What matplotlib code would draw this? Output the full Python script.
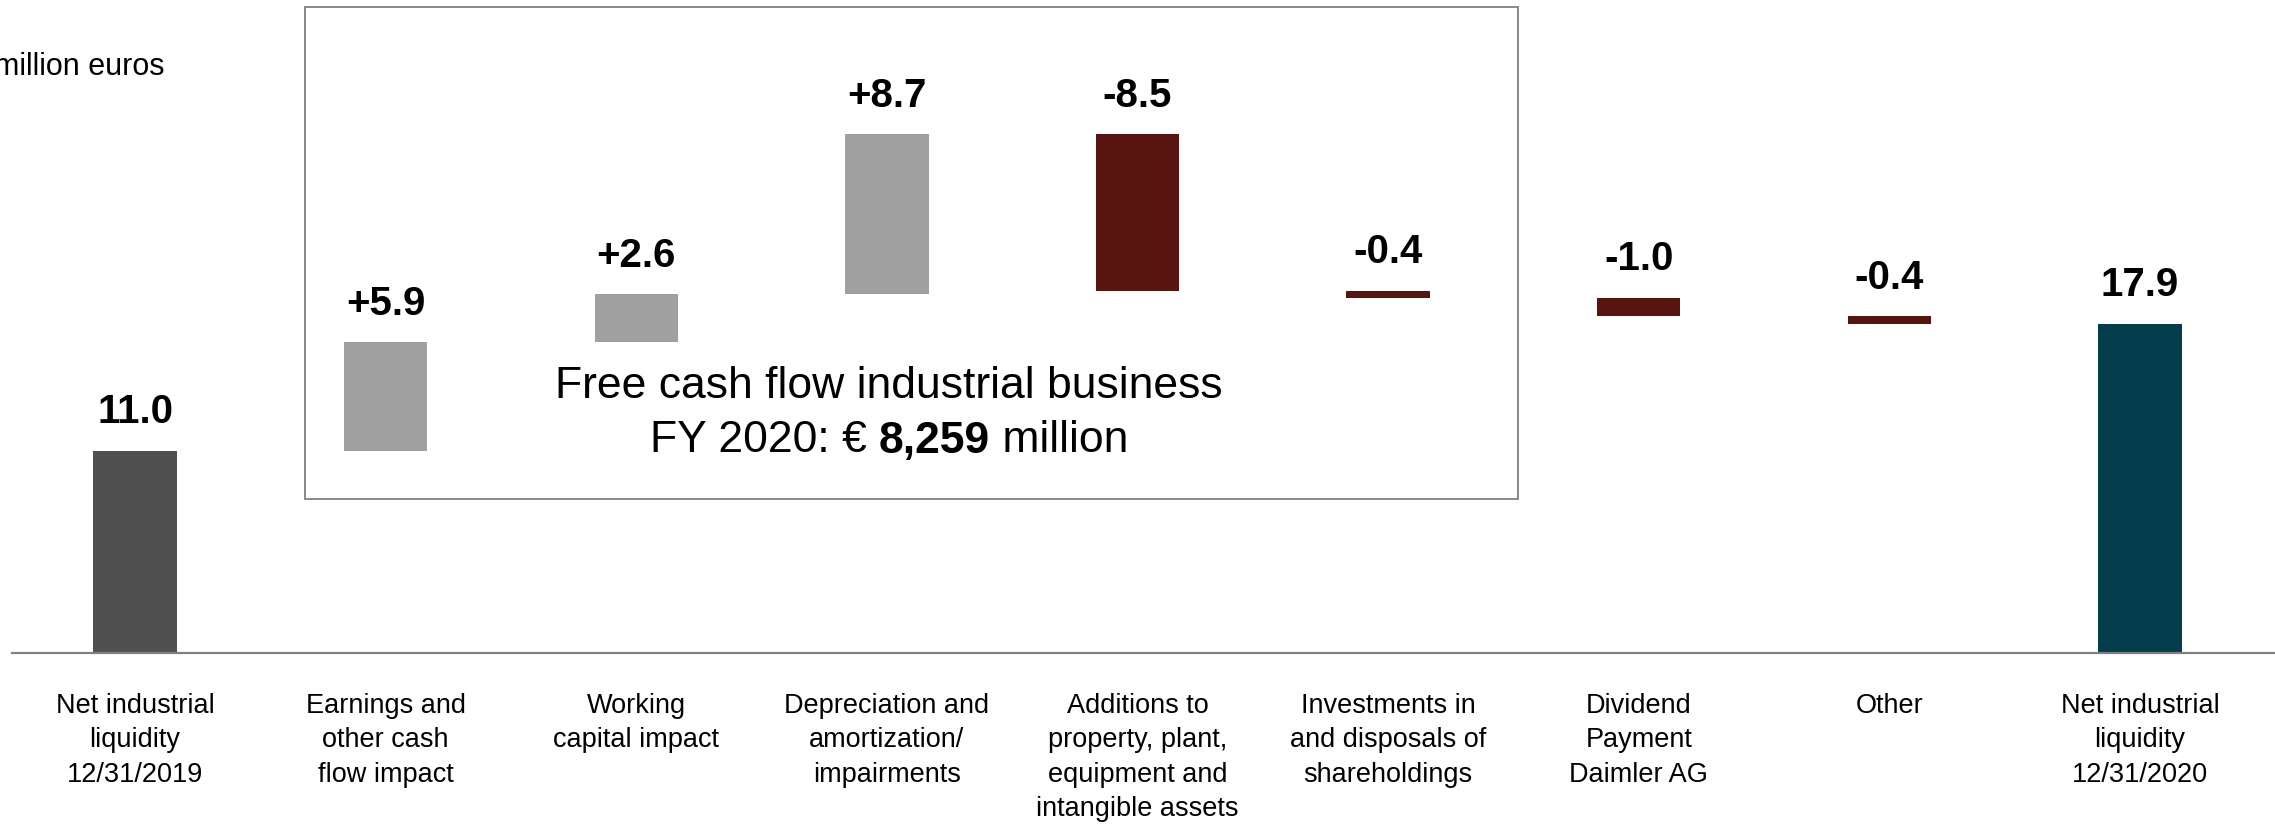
import matplotlib.pyplot as plt
from matplotlib.patches import Rectangle

plt.rcParams['font.family'] = ['Liberation Sans', 'DejaVu Sans']

categories = [
    "Net industrial\nliquidity\n12/31/2019",
    "Earnings and\nother cash\nflow impact",
    "Working\ncapital impact",
    "Depreciation and\namortization/\nimpairments",
    "Additions to\nproperty, plant,\nequipment and\nintangible assets",
    "Investments in\nand disposals of\nshareholdings",
    "Dividend\nPayment\nDaimler AG",
    "Other",
    "Net industrial\nliquidity\n12/31/2020",
]
start_value = 11.0
changes = [5.9, 2.6, 8.7, -8.5, -0.4, -1.0, -0.4]
end_value = 17.9
fcf_text = "8,259"

c_start = "#505050"
c_pos = "#a0a0a0"
c_neg = "#58140e"
c_end = "#033d4b"

# build waterfall segments
bottoms = [0]
heights = [start_value]
colors = [c_start]
labels = [f"{start_value:.1f}"]
cum = start_value
for d in changes:
    bottoms.append(min(cum, cum + d))
    heights.append(abs(d))
    colors.append(c_pos if d > 0 else c_neg)
    labels.append(f"{d:+.1f}")
    cum += d
bottoms.append(0)
heights.append(end_value)
colors.append(c_end)
labels.append(f"{end_value:.1f}")

W, H = 2275, 825
fig = plt.figure(figsize=(W / 100, H / 100), dpi=100)
ax = fig.add_axes([12 / W, 172 / H, 1 - 12 / W, (H - 172) / H])

x = list(range(len(categories)))
ax.bar(x, heights, bottom=bottoms, width=0.333, color=colors)
ax.set_xlim(-0.491, 8.539)
ax.set_ylim(0, (H - 172) / 18.4)

for xi, b, h, lab in zip(x, bottoms, heights, labels):
    ax.annotate(lab, (xi, b + h), xytext=(0, 14), textcoords="offset points",
                ha="center", va="bottom", fontsize=29, fontweight="bold")

for xi, cat in zip(x, categories):
    ax.text(xi, -0.061, cat, transform=ax.get_xaxis_transform(), ha="center",
            va="top", fontsize=19.5, linespacing=1.42)

for s in ["top", "left", "right"]:
    ax.spines[s].set_visible(False)
ax.spines["bottom"].set_color("#808080")
ax.spines["bottom"].set_linewidth(1.6)
ax.set_xticks([])
ax.set_yticks([])

# unit note at top left, partly cut at the edge
fig.text(164 / W, 1 - 67 / H, "million euros", ha="right", va="center", fontsize=22)

# free cash flow box
fig.patches.append(Rectangle((305 / W, 1 - 499 / H), 1213 / W, 492 / H,
                             transform=fig.transFigure, fill=False,
                             edgecolor="#808080", linewidth=1.3))
fig.text(889 / W, 1 - 386 / H, "Free cash flow industrial business",
         ha="center", va="center", fontsize=32)

# second line with bold amount
renderer = fig.canvas.get_renderer()
parts = [("FY 2020: € ", "normal"), (fcf_text, "bold"), (" million", "normal")]
texts = [fig.text(0, 1 - 441 / H, p, ha="left", va="center", fontsize=32,
                  fontweight=w) for p, w in parts]
widths = [t.get_window_extent(renderer).width for t in texts]
xpos = 889 - sum(widths) / 2
for t, w in zip(texts, widths):
    t.set_x(xpos / W)
    xpos += w

fig.savefig("out.png", dpi=100)
